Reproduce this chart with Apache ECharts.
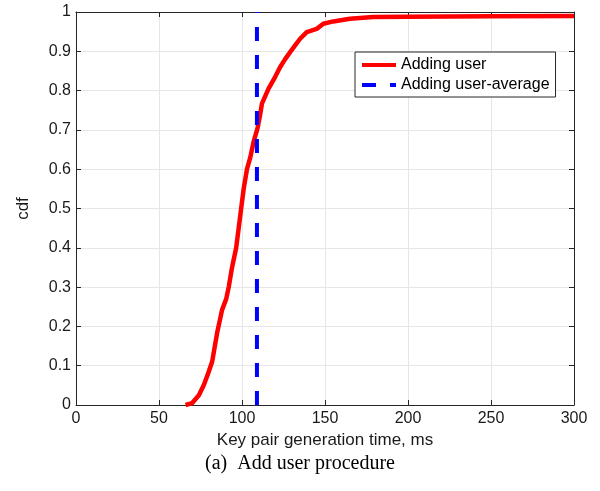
<!DOCTYPE html>
<html>
<head>
<meta charset="utf-8">
<style>
  html, body { margin:0; padding:0; background:#fff; }
  #chart { width:600px; height:491px; }
</style>
<script src="https://cdn.jsdelivr.net/npm/echarts@6/dist/echarts.min.js"></script>
</head>
<body>
<div id="chart"></div>
<script>
// CDF of key pair generation time
var timeMs = [66, 66, 70, 74, 77, 80, 82, 85, 88, 90.5, 92, 94, 96.5, 98, 99.5, 101, 103, 105, 107, 109.3,
              111, 112, 116, 120, 123, 126, 129, 132, 135, 139, 145, 149, 155, 165, 179, 200, 250, 300];
var cdf    = [0, 0.005, 0.005, 0.025, 0.051, 0.085, 0.11, 0.183, 0.242, 0.27, 0.3, 0.35, 0.4, 0.45, 0.5, 0.55, 0.6, 0.63, 0.67, 0.703,
              0.74, 0.767, 0.805, 0.835, 0.86, 0.88, 0.898, 0.915, 0.932, 0.949, 0.957, 0.97, 0.976, 0.983, 0.987, 0.988, 0.989, 0.99];
var avgMs = 109;
var seriesNames = ['Adding user', 'Adding user-average'];

(function(){
  var chart = echarts.init(document.getElementById('chart'), null, {renderer:'canvas'});
  var FONT = '"Liberation Sans", Arial, sans-serif';
  var AX = '#262626';

  var curve = timeMs.map(function(t, i){ return [t, cdf[i]]; });
  var avg = [[avgMs, 0], [avgMs, 1]];

  function box(pos, labels){
    return {
      type:'value', position:pos, min:0,
      axisLine:{ show:true, onZero:false, lineStyle:{ color:AX, width:1 } },
      axisTick:{ show:true, inside:true, length:5, lineStyle:{ color:AX } },
      axisLabel:{ show:labels, color:'#1a1a1a', fontFamily:FONT, fontSize:16 },
      splitLine:{ show:false }
    };
  }

  var xMain = box('bottom', true);
  xMain.max = 300; xMain.interval = 50;
  xMain.axisLabel.margin = 6;
  xMain.splitLine = { show:true, lineStyle:{ color:'#e6e6e6', width:1 } };
  xMain.name = 'Key pair generation time, ms';
  xMain.nameLocation = 'middle'; xMain.nameGap = 23;
  xMain.nameTextStyle = { color:'#1a1a1a', fontFamily:FONT, fontSize:17 };
  var xTop = box('top', false); xTop.max = 300; xTop.interval = 50;

  var yMain = box('left', true);
  yMain.max = 1; yMain.interval = 0.1;
  yMain.axisLabel.margin = 5;
  yMain.axisLabel.formatter = function(v){ return +v.toFixed(1) + ''; };
  yMain.splitLine = { show:true, lineStyle:{ color:'#e6e6e6', width:1 } };
  yMain.name = 'cdf';
  yMain.nameLocation = 'middle'; yMain.nameGap = 44;
  yMain.nameTextStyle = { color:'#1a1a1a', fontFamily:FONT, fontSize:17 };
  var yRight = box('right', false); yRight.max = 1; yRight.interval = 0.1;

  chart.setOption({
    animation:false,
    backgroundColor:'#fff',
    title:{
      text:'(a)  Add user procedure', left:'center', top:449,
      textStyle:{ fontFamily:'"Liberation Serif", "Times New Roman", serif', fontSize:20, fontWeight:'normal', color:'#000' }
    },
    grid:{ left:76, right:26, top:12, bottom:86 },
    legend:{
      orient:'vertical', left:355, top:52, itemWidth:34, itemHeight:14, itemGap:4,
      padding:[5, 6, 4, 5], borderColor:AX, borderWidth:1, backgroundColor:'#fff',
      itemStyle:{ opacity:0 },
      lineStyle:{ width:4 },
      textStyle:{ fontFamily:FONT, fontSize:16, color:'#000' },
      data:seriesNames
    },
    xAxis:[xMain, xTop],
    yAxis:[yMain, yRight],
    series:[
      { name:seriesNames[0], type:'line', data:curve, symbol:'none', smooth:false,
        lineStyle:{ color:'#ff0000', width:4.5 }, itemStyle:{ color:'#ff0000' }, z:3 },
      { name:seriesNames[1], type:'line', data:avg, symbol:'none',
        lineStyle:{ color:'#0000ff', width:4, type:[14, 14] }, itemStyle:{ color:'#0000ff' }, z:4 }
    ]
  });
})();
</script>
</body>
</html>
